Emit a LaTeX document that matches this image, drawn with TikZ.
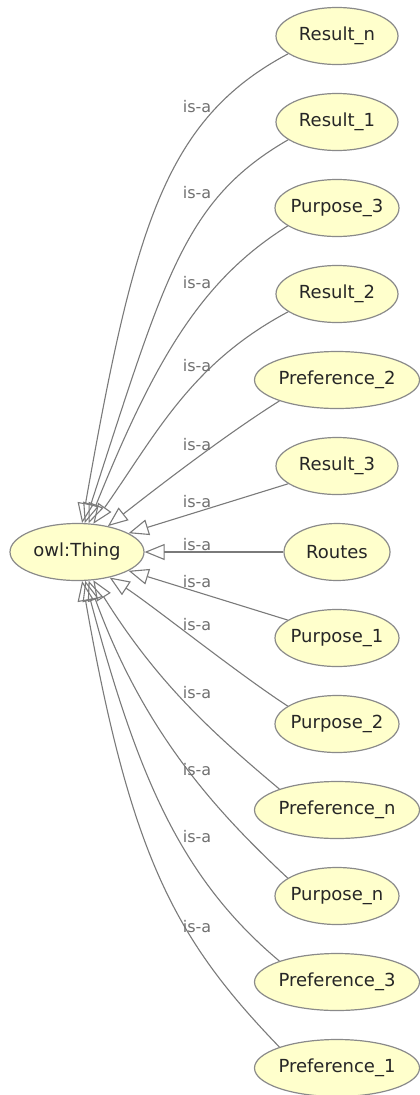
\documentclass[tikz,border=0pt]{standalone}
\usepackage{fontspec}
\setmainfont{DejaVu Sans}
\usepackage{tikz}
\usetikzlibrary{arrows.meta,shapes,positioning}

\definecolor{nodefill}{HTML}{FFFFCC}
\definecolor{nodeline}{HTML}{8A8A8A}
\definecolor{edgeline}{HTML}{7A7A7A}
\definecolor{lbltext}{HTML}{707070}

\newcommand{\nodefont}{\fontsize{18}{20}\selectfont}
\newcommand{\lblfont}{\fontsize{16}{18}\selectfont}

\tikzset{
  basic/.style   = {draw=nodeline, fill=nodefill, ellipse, line width=1.2pt,
                    inner xsep=-6pt, inner ysep=0pt, minimum height=57pt,
                    font=\nodefont, text=black!85},
  root/.style    = {basic, minimum width=134pt},
  result/.style  = {basic, minimum width=122pt},
  purpose/.style = {basic, minimum width=124pt},
  pref/.style    = {basic, minimum width=165pt},
  route/.style   = {basic, minimum width=106pt},
  isa/.style     = {draw=edgeline, line width=1.1pt,
                    -{Triangle[open, length=20pt, width=16pt]}},
  lbl/.style     = {font=\lblfont, text=lbltext, inner sep=0pt}
}

\begin{document}
\begin{tikzpicture}[x=1pt, y=1pt, node distance=86pt]
\useasboundingbox (0,0) rectangle (420,-1095);

% the root class
\node[root] (thing) at (77,-552) {owl:Thing};

% subclasses, one column on the right
\node[result] (resn) at (337,-36) {Result\_n};
\node[result,  below of = resn]  (res1)   {Result\_1};
\node[purpose, below of = res1]  (pur3)   {Purpose\_3};
\node[result,  below of = pur3]  (res2)   {Result\_2};
\node[pref,    below of = res2]  (pref2)  {Preference\_2};
\node[result,  below of = pref2] (res3)   {Result\_3};
\node[route,   below of = res3]  (routes) {Routes};
\node[purpose, below of = routes] (pur1)  {Purpose\_1};
\node[purpose, below of = pur1]  (pur2)   {Purpose\_2};
\node[pref,    below of = pur2]  (prefn)  {Preference\_n};
\node[purpose, below of = prefn] (purn)   {Purpose\_n};
\node[pref,    below of = purn]  (pref3)  {Preference\_3};
\node[pref,    below of = pref3] (pref1)  {Preference\_1};

% curved is-a edges: child anchor / out angle / out length / root anchor / in angle / in length
\foreach \c/\s/\o/\lo/\e/\i/\li in {
    resn/200/208/140/80/80/300,
    res1/200/210/120/75/72/260,
    pur3/200/212/100/68/68/180,
    res2/200/208/110/60/55/110,
    pref2/200/212/70/40/38/40,
    pur2/160/147/60/322/327/50,
    prefn/160/140/90/300/302/120,
    purn/160/137/100/292/290/160,
    pref3/160/140/130/286/285/200,
    pref1/160/134/150/280/280/280}
  \draw[isa] (\c.\s) .. controls +(\o:\lo) and +(\i:\li) .. (thing.\e);

% straight is-a edges
\foreach \c/\s/\e in {res3/200/20, routes/180/0, pur1/160/340}
  \draw[isa] (\c.\s) -- (thing.\e);

% edge labels
\foreach \y [count=\k] in {107,193,283,366,445,502,545,582,625,693,770,837,927}
  \node[lbl] (isa\k) at (197,-\y) {is-a};
\end{tikzpicture}
\end{document}
